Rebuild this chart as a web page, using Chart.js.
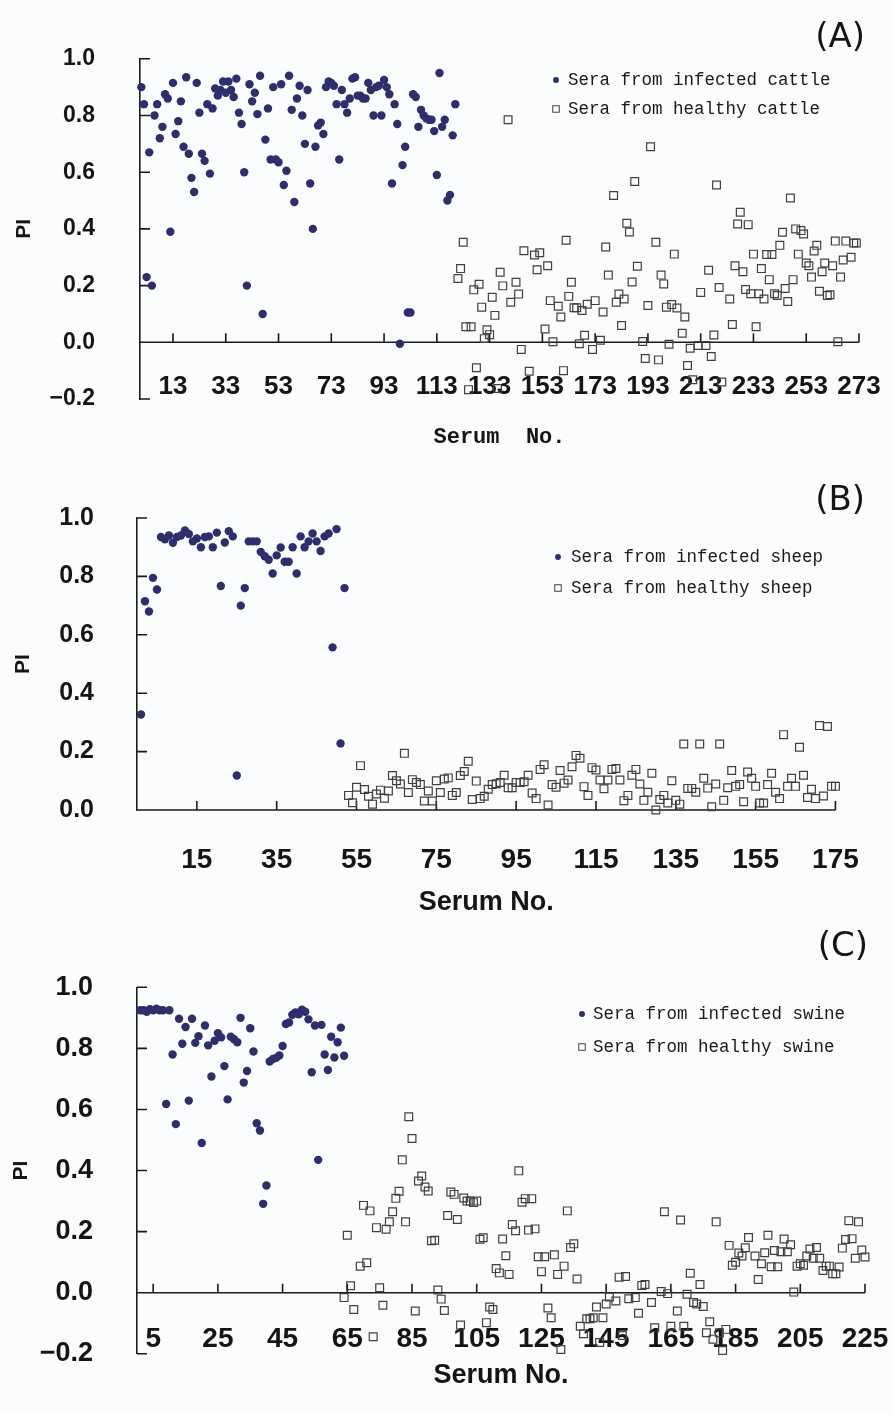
<!DOCTYPE html>
<html>
<head>
<meta charset="utf-8">
<script src="https://cdn.jsdelivr.net/npm/chart.js@4.4.1/dist/chart.umd.min.js"></script>
<style>
  html, body { margin: 0; padding: 0; background: #fbfcfe; }
  #wrap { position: relative; width: 892px; height: 1414px; overflow: hidden; }
  canvas { position: absolute; left: 0; }
</style>
</head>
<body>
<div id="wrap">
  <canvas id="cA" width="892" height="460" style="top:0px"></canvas>
  <canvas id="cB" width="892" height="460" style="top:460px"></canvas>
  <canvas id="cC" width="892" height="494" style="top:920px"></canvas>
</div>
<script>
// ---------------- DATA ----------------
// Panel A: cattle
const cattleInfectedNo = [
  1,2,3,4,5,6,7,8,9,10, 11,12,13,14,15,16,17,18,19,20,
  21,22,23,24,25,26,27,28,29,30, 31,32,33,34,35,36,37,38,39,40,
  41,42,43,44,45,46,47,48,49,50, 51,52,53,54,55,56,57,58,59,60,
  61,62,63,64,65,66,67,68,69,70, 71,72,73,74,75,76,77,78,79,80,
  81,82,83,84,85,86,87,88,89,90, 91,92,93,94,95,96,97,98,99,100,
  101,102,103,104,105,106,107,108,109,110, 111,112,113,114,115,116,117,118,119,120
];
const cattleInfectedPI = [
  0.90,0.84,0.23,0.67,0.20,0.80,0.84,0.72,0.76,0.875,
  0.86,0.39,0.915,0.735,0.78,0.85,0.69,0.935,0.665,0.58,
  0.53,0.915,0.81,0.665,0.64,0.84,0.595,0.825,0.895,0.87,
  0.89,0.92,0.88,0.92,0.89,0.865,0.93,0.81,0.77,0.60,
  0.20,0.91,0.85,0.88,0.805,0.94,0.10,0.715,0.825,0.645,
  0.90,0.645,0.635,0.91,0.555,0.605,0.94,0.82,0.495,0.86,
  0.905,0.80,0.70,0.89,0.56,0.40,0.69,0.765,0.775,0.735,
  0.90,0.92,0.915,0.905,0.84,0.645,0.89,0.84,0.81,0.86,
  0.93,0.935,0.87,0.87,0.86,0.86,0.915,0.89,0.80,0.90,
  0.905,0.80,0.925,0.90,0.875,0.56,0.84,0.77,-0.005,0.625,
  0.69,0.105,0.105,0.875,0.865,0.76,0.82,0.80,0.79,0.785,
  0.785,0.745,0.59,0.95,0.76,0.785,0.50,0.52,0.73,0.84
];
const cattleHealthyNo = [
  121,122,123,124,125,126,127,128,129,130,131,132,133,134,135,136,137,138,
  140,141, 143,144,145,146, 148, 150,151,152, 154,155,156,157,
  159,160,161,162,163,164,165,166,167,168,169,170, 172,173,
  175,176,177,178, 180,181,182,183,184,185,186,187,188,189,
  191,192,193,194, 196,197,198,199,200,201,202,203,204,
  206,207,208,209,210, 212,213, 215,216,217,218,219,220,221,
  224,225,226,227,228,229,230,231,232,233,234,235,236,237,238,
  239,240,241,242,243,244,245,246,247,248,249,250,251,252,253,
  254,255,256,257,258,259,260,261,262,263,264,265,266,267,268,
  270,271,272
];
const cattleHealthyPI = [
  0.225,0.26,0.353,0.055,-0.167,0.055,0.185,-0.09,0.205,0.124,0.013,0.044,0.027,0.159,0.095,-0.163,0.247,0.199,
  0.785,0.141, 0.212,0.17,-0.025,0.323, -0.102, 0.308,0.256,0.316, 0.047,0.27,0.147,0.002,
  0.127,0.089,-0.1,0.36,0.162,0.212,0.122,0.122,-0.005,0.112,0.025,0.134, -0.025,0.147,
  0.007,0.107,0.336,0.237, 0.518,0.141,0.17,0.059,0.153,0.42,0.389,0.213,0.567,0.268,
  0.003,-0.057,0.13,0.69, 0.353,-0.062,0.237,0.206,0.124,-0.007,0.133,0.311,0.121,
  0.032,0.089,-0.082,-0.021,-0.132, -0.011,0.176, -0.011,0.254,-0.05,0.026,0.555,0.193,-0.14,
  0.153,0.063,0.27,0.417,0.459,0.249,0.186,0.415,0.171,0.311,0.055,0.171,0.26,0.153,0.31,
  0.221,0.31,0.171,0.165,0.342,0.388,0.19,0.144,0.509,0.221,0.4,0.311,0.394,0.382,0.28,
  0.27,0.23,0.322,0.342,0.18,0.249,0.28,0.165,0.168,0.27,0.357,0.002,0.23,0.29,0.357,
  0.3,0.35,0.35
];
const cattleXTicks = [13,33,53,73,93,113,133,153,173,193,213,233,253,273];
const cattleYTicks = [-0.2,0,0.2,0.4,0.6,0.8,1.0];

// Panel B: sheep
const sheepInfectedNo = [
  1,2,3,4,5,6,7,8,9,10, 11,12,13,14,15,16,17,18,19,20,
  21,22,23,24,25,26,27,28,29,30, 31,32,33,34,35,36,37,38,39,40,
  41,42,43,44,45,46,47,48,49,50, 51,52
];
const sheepInfectedPI = [
  0.327,0.715,0.68,0.795,0.755,0.935,0.927,0.94,0.915,0.935,
  0.94,0.957,0.945,0.92,0.93,0.90,0.935,0.937,0.90,0.95,
  0.767,0.916,0.955,0.937,0.118,0.70,0.76,0.92,0.92,0.92,
  0.884,0.869,0.857,0.81,0.872,0.899,0.85,0.85,0.90,0.81,
  0.937,0.90,0.92,0.947,0.92,0.887,0.937,0.947,0.557,0.962,
  0.228,0.76
];
const sheepHealthyNo = [
  53,54,55,56,57,58,59,60,61,62,63,64,65,66,67,68,69,70,71,72,73,74,75,76,77,78,79,80,
  81,82,83,84,85,86,87,88,89,90,91,92,93,94,95,96,97,98,99,100,101,102,103,104,105,
  106,107,108,109,110,111,112,113,114,115,116,117,118,119,120,121,122,123,124,125,
  126,127,128,129,130,131,132,133,134,135,136,137,138,139,140,141,142,143,144,145,
  146,147,148,149,150,151,152,153,154,155,156,157,158,159,160,161,162,163,164,165,
  166,167,168,169,170,171,172,173,174,175
];
const sheepHealthyPI = [
  0.05,0.025,0.078,0.152,0.07,0.047,0.02,0.055,0.068,0.04,0.065,0.118,0.10,0.089,0.194,0.06,0.104,0.094,0.087,0.031,0.065,0.031,0.10,0.06,0.106,0.11,0.05,0.06,
  0.118,0.132,0.167,0.036,0.099,0.039,0.047,0.071,0.087,0.09,0.094,0.119,0.076,0.076,0.094,0.094,0.097,0.119,0.058,0.039,0.139,0.155,0.017,0.087,0.078,
  0.135,0.092,0.103,0.148,0.187,0.177,0.08,0.05,0.145,0.137,0.103,0.073,0.103,0.139,0.142,0.103,0.032,0.05,0.119,0.139,
  0.089,0.033,0.061,0.126,0.0,0.036,0.05,0.024,0.1,0.033,0.02,0.226,0.074,0.074,0.061,0.226,0.109,0.075,0.011,0.089,
  0.226,0.033,0.076,0.135,0.081,0.087,0.028,0.13,0.109,0.081,0.024,0.024,0.087,0.126,0.061,0.039,0.258,0.081,0.109,0.081,
  0.215,0.119,0.043,0.071,0.039,0.289,0.048,0.286,0.081,0.081
];
const sheepXTicks = [15,35,55,75,95,115,135,155,175];
const sheepYTicks = [0,0.2,0.4,0.6,0.8,1.0];

// Panel C: swine
const swineInfectedNo = [
  1,2,3,4,5,6,7,8,9,10, 11,12,13,14,15,16,17,18,19,20,
  21,22,23,24,25,26,27,28,29,30, 31,32,33,34,35,36,37,38,39,40,
  41,42,43,44,45,46,47,48,49,50, 51,52,53,54,55,56,57,58,59,60,
  61,62,63,64
];
const swineInfectedPI = [
  0.925,0.925,0.92,0.928,0.925,0.93,0.925,0.925,0.618,0.925,
  0.78,0.552,0.897,0.815,0.87,0.629,0.897,0.818,0.84,0.49,
  0.875,0.81,0.708,0.825,0.85,0.836,0.742,0.633,0.838,0.83,
  0.82,0.9,0.688,0.726,0.866,0.79,0.555,0.531,0.291,0.351,
  0.757,0.765,0.769,0.777,0.808,0.88,0.885,0.91,0.918,0.912,
  0.927,0.92,0.895,0.722,0.875,0.435,0.877,0.78,0.729,0.838,
  0.77,0.82,0.868,0.776
];
const swineHealthyNo = [
  64,65,66,67,69,70,71,72,73,74,75,76,77,78,79,80,81,82,83,84,85,86,87,88,89,90,
  91,92,93,94,95,96,97,98,99,100,101,102,103,104,105,106,107,108,109,110,
  111,112,113,114,115,116,117,118,119,120,121,122,123,124,125,126,127,128,129,130,
  131,132,133,134,135,136,137,138,139,140,141,142,143,144,145,146,148,149,150,151,
  152,154,155,156,157,159,160,162,163,164,165,167,168,169,170,171,172,173,174,175,
  176,177,178,179,180,181,182,183,184,185,186,187,188,189,191,192,193,194,195,196,
  197,198,199,200,201,202,203,204,205,206,207,208,209,210,211,212,213,214,215,216,
  217,218,219,220,221,222,223,224,225
];
const swineHealthyPI = [
  -0.016,0.188,0.023,-0.055,0.087,0.286,0.098,0.268,-0.144,0.213,0.016,-0.041,0.208,0.232,0.265,0.309,0.332,0.435,0.232,0.576,0.505,-0.06,0.366,0.382,0.346,0.333,
  0.17,0.172,0.009,-0.021,-0.058,0.253,0.33,0.322,0.24,-0.106,0.31,0.30,0.30,0.295,0.30,0.175,0.18,-0.098,-0.047,-0.055,
  0.079,0.065,0.176,0.121,0.06,0.223,0.203,0.399,0.296,0.308,0.205,0.308,0.209,0.118,0.069,0.118,-0.05,-0.082,0.124,0.06,
  -0.186,0.087,0.268,0.148,0.16,0.045,-0.11,-0.134,-0.085,-0.085,-0.082,-0.047,-0.163,-0.082,-0.037,-0.014,-0.027,0.051,-0.14,0.053,
  -0.02,-0.016,-0.067,0.024,0.027,-0.032,-0.115,0.004,0.265,-0.003,-0.11,-0.06,0.238,-0.11,-0.005,0.064,-0.032,-0.037,0.027,-0.045,
  -0.131,-0.095,-0.152,0.232,-0.131,-0.189,-0.12,0.155,0.09,0.1,0.13,0.12,0.147,0.181,0.12,0.043,0.095,0.131,0.188,0.085,
  0.138,0.085,0.134,0.176,0.134,0.157,0.002,0.087,0.095,0.09,0.12,0.143,0.113,0.148,0.113,0.073,0.087,0.087,0.062,0.062,
  0.084,0.146,0.174,0.236,0.177,0.113,0.232,0.14,0.117
];
const swineXTicks = [5,25,45,65,85,105,125,145,165,185,205,225];
const swineYTicks = [-0.2,0,0.2,0.4,0.6,0.8,1.0];

// ---------------- STYLE ----------------
const NAVY = '#2d2f6d';
const INK = '#151515';
const AXIS = '#1b1b1b';

const pairs = (xs, ys) => xs.map((x, i) => ({ x: x, y: ys[i] }));
const fmtPI = v => {
  const r = Math.round(v * 10) / 10;
  return (r < 0 ? '\u2212' : '') + Math.abs(r).toFixed(1);
};

// axis line at PI = 0 with upward ticks, and inward ticks on the PI axis
const axisMarks = {
  id: 'axisMarks',
  beforeDatasetsDraw(chart, args, o) {
    const { ctx, chartArea: a } = chart;
    const xs = chart.scales.x, ys = chart.scales.y;
    const y0 = ys.getPixelForValue(0);
    ctx.save();
    ctx.strokeStyle = o.color;
    ctx.lineWidth = o.width;
    ctx.beginPath();
    ctx.moveTo(a.left, y0);
    ctx.lineTo(a.right, y0);
    xs.ticks.forEach(t => {
      const px = xs.getPixelForValue(t.value);
      ctx.moveTo(px, y0);
      ctx.lineTo(px, y0 - o.xLen);
    });
    ys.ticks.forEach(t => {
      const py = ys.getPixelForValue(t.value);
      ctx.moveTo(a.left, py);
      ctx.lineTo(a.left + o.yLen, py);
    });
    ctx.stroke();
    ctx.restore();
  }
};

// legend drawn inside the plot, from the datasets' own labels and styles
const insetLegend = {
  id: 'insetLegend',
  afterDatasetsDraw(chart, args, o) {
    const ctx = chart.ctx;
    ctx.save();
    ctx.font = o.font;
    ctx.textBaseline = 'middle';
    ctx.textAlign = 'left';
    chart.data.datasets.forEach((ds, i) => {
      const cy = o.y + i * o.gap;
      if (ds.pointStyle === 'rect') {
        ctx.strokeStyle = ds.borderColor;
        ctx.lineWidth = 1;
        ctx.strokeRect(o.markerX - o.size / 2, cy - o.size / 2, o.size, o.size);
      } else {
        ctx.fillStyle = ds.backgroundColor;
        ctx.beginPath();
        ctx.arc(o.markerX, cy, o.size / 2 - 0.3, 0, Math.PI * 2);
        ctx.fill();
      }
      ctx.fillStyle = o.color;
      ctx.fillText(ds.label, o.textX, cy);
    });
    ctx.restore();
  }
};

function makePanel(id, p) {
  return new Chart(document.getElementById(id), {
    type: 'scatter',
    data: {
      datasets: [
        {
          label: p.infLabel,
          data: pairs(p.infNo, p.infPI),
          pointStyle: 'circle',
          pointRadius: 4.2,
          pointHoverRadius: 4.2,
          backgroundColor: NAVY,
          borderColor: NAVY,
          borderWidth: 0,
          clip: false
        },
        {
          label: p.heaLabel,
          data: pairs(p.heaNo, p.heaPI),
          pointStyle: 'rect',
          pointRadius: 5.5,
          pointHoverRadius: 5.5,
          backgroundColor: 'rgba(0,0,0,0)',
          borderColor: '#404040',
          borderWidth: 1.2,
          clip: false
        }
      ]
    },
    options: {
      responsive: false,
      animation: false,
      devicePixelRatio: 1,
      events: [],
      layout: { padding: { left: 0, right: p.padRight, top: 0, bottom: 0 } },
      scales: {
        x: {
          type: 'linear',
          position: 'bottom',
          min: p.xMin,
          max: p.xMax,
          afterBuildTicks: s => { s.ticks = p.xTicks.map(v => ({ value: v })); },
          afterFit: s => { s.height = p.xAxisH; },
          grid: { display: false, drawTicks: false },
          border: { display: false },
          ticks: {
            autoSkip: false, maxRotation: 0, minRotation: 0,
            mirror: p.xMirror,
            padding: p.xTickPad,
            color: INK,
            font: { family: '"Liberation Sans", Arial, sans-serif', size: p.xTickSize, weight: 'bold' },
            callback: v => String(v)
          },
          title: {
            display: true,
            text: p.xTitle,
            color: INK,
            font: p.xTitleFont,
            padding: { top: 0, bottom: p.xTitlePadB }
          }
        },
        y: {
          type: 'linear',
          position: 'left',
          min: p.yMin,
          max: 1.0,
          afterBuildTicks: s => { s.ticks = p.yTicks.map(v => ({ value: v })); },
          afterFit: s => { s.width = p.yAxisW; },
          grid: { display: false, drawTicks: false },
          border: { display: true, color: AXIS, width: 1.6 },
          ticks: {
            padding: p.yTickPad,
            color: INK,
            font: { family: '"Liberation Sans", Arial, sans-serif', size: p.yTickSize, weight: 'bold' },
            callback: v => fmtPI(v)
          },
          title: {
            display: true,
            text: 'PI',
            color: INK,
            font: { family: '"Liberation Sans", Arial, sans-serif', size: 21, weight: 'bold' },
            padding: { top: p.yTitlePad, bottom: 0 }
          }
        },
        yRight: {
          type: 'linear',
          axis: 'y',
          position: 'right',
          min: 0, max: 1,
          display: true,
          afterFit: s => { s.width = p.rightW; },
          grid: { display: false, drawTicks: false },
          border: { display: false },
          ticks: { display: false }
        }
      },
      plugins: {
        legend: { display: false },
        tooltip: { enabled: false },
        title: {
          display: true,
          text: p.panel,
          align: 'end',
          color: INK,
          font: { family: '"DejaVu Sans", sans-serif', size: 34, weight: 'normal', lineHeight: 1 },
          padding: { top: p.titlePadT, bottom: p.titlePadB }
        },
        axisMarks: { color: AXIS, width: 1.6, xLen: 9, yLen: 10 },
        insetLegend: {
          font: '17.5px "Liberation Mono", monospace',
          color: '#1a1a1a',
          markerX: p.legMarkerX, textX: p.legTextX, y: p.legY, gap: p.legGap, size: 6.5
        }
      }
    },
    plugins: [axisMarks, insetLegend]
  });
}

makePanel('cA', {
  panel: '(A)',
  infLabel: 'Sera from infected cattle', heaLabel: 'Sera from healthy cattle',
  infNo: cattleInfectedNo, infPI: cattleInfectedPI, heaNo: cattleHealthyNo, heaPI: cattleHealthyPI,
  xTicks: cattleXTicks, yTicks: cattleYTicks,
  xMin: 0.5, xMax: 273, yMin: -0.2,
  yAxisW: 140, padRight: 27, rightW: 6,
  titlePadT: 13.4, titlePadB: 3.6,
  xAxisH: 61, xMirror: true, xTickPad: -3.6, xTickSize: 26,
  xTitle: 'Serum  No.', xTitleFont: { family: '"Liberation Mono", monospace', size: 22, weight: 'bold' }, xTitlePadB: 9.4,
  yTickPad: 45, yTickSize: 23, yTitlePad: 11.4,
  legMarkerX: 556, legTextX: 568, legY: 80, legGap: 29
});

makePanel('cB', {
  panel: '(B)',
  infLabel: 'Sera from infected sheep', heaLabel: 'Sera from healthy sheep',
  infNo: sheepInfectedNo, infPI: sheepInfectedPI, heaNo: sheepHealthyNo, heaPI: sheepHealthyPI,
  xTicks: sheepXTicks, yTicks: sheepYTicks,
  xMin: 0, xMax: 175, yMin: 0,
  yAxisW: 137, padRight: 27, rightW: 10,
  titlePadT: 18.7, titlePadB: 0,
  xAxisH: 110, xMirror: false, xTickPad: 33.2, xTickSize: 28,
  xTitle: 'Serum No.', xTitleFont: { family: '"Liberation Sans", Arial, sans-serif', size: 27, weight: 'bold' }, xTitlePadB: 0.8,
  yTickPad: 43, yTickSize: 25, yTitlePad: 10.9,
  legMarkerX: 558, legTextX: 571, legY: 97, legGap: 31
});

makePanel('cC', {
  panel: '(C)',
  infLabel: 'Sera from infected swine', heaLabel: 'Sera from healthy swine',
  infNo: swineInfectedNo, infPI: swineInfectedPI, heaNo: swineHealthyNo, heaPI: swineHealthyPI,
  xTicks: swineXTicks, yTicks: swineYTicks,
  xMin: 0, xMax: 225, yMin: -0.2,
  yAxisW: 137, padRight: 24, rightW: 3,
  titlePadT: 10, titlePadB: 23.3,
  xAxisH: 38, xMirror: true, xTickPad: -2.5, xTickSize: 28,
  xTitle: 'Serum No.', xTitleFont: { family: '"Liberation Sans", Arial, sans-serif', size: 27, weight: 'bold' }, xTitlePadB: 0,
  yTickPad: 44, yTickSize: 27, yTitlePad: 8.4,
  legMarkerX: 582, legTextX: 593, legY: 94, legGap: 33
});
</script>
</body>
</html>
